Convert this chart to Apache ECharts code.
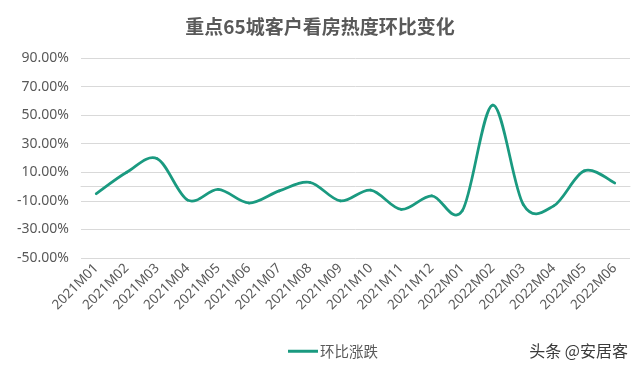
<!DOCTYPE html>
<html>
<head>
<meta charset="utf-8">
<script src="https://cdn.jsdelivr.net/npm/echarts@6/dist/echarts.min.js"></script>
<style>
html,body{margin:0;padding:0;background:#fff;}
#chart{width:640px;height:374px;}
</style>
</head>
<body>
<div id="chart"></div>
<script>
var titleText = '重点65城客户看房热度环比变化';
var seriesName = '环比涨跌';
var categories = ['2021M01','2021M02','2021M03','2021M04','2021M05','2021M06','2021M07','2021M08','2021M09','2021M10','2021M11','2021M12','2022M01','2022M02','2022M03','2022M04','2022M05','2022M06'];
var values = [-5, 10, 19.5, -9.5, -2, -11.5, -3, 3, -10, -2.5, -16, -6.5, -17, 57, -12.5, -13.5, 11, 2.5];
var yMin = -50, yMax = 90, yStep = 20;
var watermark = '头条 @安居客';

var lineColor = '#1a9a80';
var n = values.length;

// Excel-style smoothed line: Catmull-Rom segments computed through the axis scales
function renderSegment(params, api) {
  var i = params.dataIndex;
  if (i >= n - 1) return null;
  function pt(k) {
    k = Math.max(0, Math.min(n - 1, k));
    return api.coord([k, values[k]]);
  }
  var p0 = pt(i - 1), p1 = pt(i), p2 = pt(i + 1), p3 = pt(i + 2);
  return {
    type: 'bezierCurve',
    shape: {
      x1: p1[0], y1: p1[1], x2: p2[0], y2: p2[1],
      cpx1: p1[0] + (p2[0] - p0[0]) / 6, cpy1: p1[1] + (p2[1] - p0[1]) / 6,
      cpx2: p2[0] - (p3[0] - p1[0]) / 6, cpy2: p2[1] - (p3[1] - p1[1]) / 6
    },
    style: {stroke: lineColor, lineWidth: 2.75, fill: null, lineCap: 'round', lineJoin: 'round'},
    silent: true
  };
}

var chart = echarts.init(document.getElementById('chart'));
chart.setOption({
  animation: false,
  backgroundColor: '#ffffff',
  title: {
    text: titleText,
    left: 'center',
    top: 12,
    textStyle: {fontFamily: 'Noto Sans CJK SC', fontSize: 19, fontWeight: 'bold', color: '#595959'}
  },
  legend: {
    data: [{name: seriesName, icon: 'rect'}],
    left: 283,
    top: 339,
    itemWidth: 30,
    itemHeight: 3,
    itemGap: 4,
    itemStyle: {color: lineColor},
    textStyle: {fontFamily: 'Noto Sans CJK SC', fontSize: 14.5, color: '#595959', padding: [0,0,0,-3]}
  },
  grid: {left: 81, right: 10, top: 58, bottom: 116, containLabel: false},
  xAxis: {
    type: 'category',
    data: categories,
    boundaryGap: true,
    axisLine: {show: true, lineStyle: {color: '#d9d9d9', width: 1}},
    axisTick: {show: false},
    axisLabel: {rotate: 45, margin: 8, interval: 0, fontFamily: 'Noto Sans', fontSize: 13.5, color: '#595959'}
  },
  yAxis: {
    type: 'value',
    min: yMin,
    max: yMax,
    interval: yStep,
    axisLine: {show: false},
    axisTick: {show: false},
    splitLine: {lineStyle: {color: '#d9d9d9', width: 1}},
    axisLabel: {
      margin: 12,
      fontFamily: 'Noto Sans',
      fontSize: 14,
      color: '#595959',
      formatter: function (v) { return v.toFixed(2) + '%'; }
    }
  },
  series: [{
    name: seriesName,
    type: 'custom',
    data: values.map(function (v, i) { return [i, v]; }),
    encode: {x: 0, y: 1},
    renderItem: renderSegment,
    itemStyle: {color: lineColor}
  }],
  graphic: [{
    type: 'text',
    right: 12,
    top: 343,
    style: {text: watermark, fontFamily: 'Noto Sans CJK SC', fontSize: 16, fill: '#3a3a3a'}
  }]
});
</script>
</body>
</html>
